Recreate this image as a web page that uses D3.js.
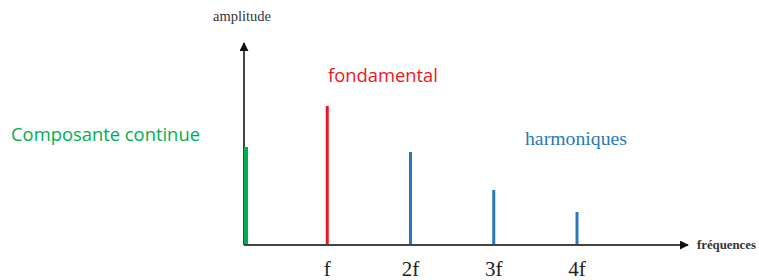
<!DOCTYPE html>
<html>
<head>
<meta charset="utf-8">
<script src="https://cdn.jsdelivr.net/npm/d3@7"></script>
<style>
  body { margin: 0; background: #fff; }
</style>
</head>
<body>
<script>
// spectre : composante continue, fondamental, harmoniques
const harmonics = [0, 1, 2, 3, 4]
const amplitudes = [98, 139, 93, 55, 33]
const kinds = ['continue', 'fondamental', 'harmonique', 'harmonique', 'harmonique']
const tickLabels = ['f', '2f', '3f', '4f']

const m = { width: 759, height: 280, left: 244, bottom: 245 }

const colors = {
  continue: '#00b050',
  fondamental: '#f0141e',
  harmonique: '#2a78bc'
}

let svg = d3.select('body')
  .append('svg')
  .attr('width', m.width)
  .attr('height', m.height)

let x = d3.scaleLinear()
  .domain([0, 4])
  .range([m.left, 577])

let y = d3.scaleLinear()
  .domain([0, 200])
  .range([m.bottom, 45])

// arrow heads
let defs = svg.append('defs')
defs.append('marker')
  .attr('id', 'arrow')
  .attr('viewBox', '0 0 10 10')
  .attr('refX', 9).attr('refY', 5)
  .attr('markerWidth', 9).attr('markerHeight', 9)
  .attr('markerUnits', 'userSpaceOnUse')
  .attr('orient', 'auto')
  .append('path')
  .attr('d', 'M0,0 L10,5 L0,10 Z')
  .attr('fill', '#111')

// axes
svg.append('line')
  .attr('x1', m.left).attr('y1', m.bottom)
  .attr('x2', m.left).attr('y2', 43)
  .attr('stroke', '#444').attr('stroke-width', 2)
  .attr('marker-end', 'url(#arrow)')

svg.append('line')
  .attr('x1', m.left).attr('y1', m.bottom)
  .attr('x2', 688).attr('y2', m.bottom)
  .attr('stroke', '#444').attr('stroke-width', 2)
  .attr('marker-end', 'url(#arrow)')

// raies
svg.selectAll('line.raie')
  .data(harmonics)
  .enter()
  .append('line')
    .attr('class', 'raie')
    .attr('x1', function(d) { return x(d) + (d === 0 ? 2 : 0) })
    .attr('x2', function(d) { return x(d) + (d === 0 ? 2 : 0) })
    .attr('y1', m.bottom - 1)
    .attr('y2', function(d, i) { return y(amplitudes[i]) })
    .attr('stroke', function(d, i) { return colors[kinds[i]] })
    .attr('stroke-width', function(d) { return d === 0 ? 4 : 3 })

// tick labels
svg.selectAll('text.tick')
  .data(tickLabels)
  .enter()
  .append('text')
    .attr('class', 'tick')
    .attr('x', function(d, i) { return x(i + 1) })
    .attr('y', 276)
    .attr('text-anchor', 'middle')
    .attr('font-family', 'Liberation Serif, serif')
    .attr('font-size', 21)
    .attr('fill', '#222')
    .text(function(d) { return d })

function label(txt, px, py, family, size, fill, targetWidth, weight) {
  let t = svg.append('text')
    .attr('x', px).attr('y', py)
    .attr('font-family', family)
    .attr('font-size', size)
    .attr('font-weight', weight || 'normal')
    .attr('fill', fill)
    .text(txt)
  // ajuster la taille à la largeur du texte d'origine
  let w = t.node().getComputedTextLength()
  if (targetWidth && w > 0) {
    t.attr('font-size', size * targetWidth / w)
  }
  return t
}

label('amplitude', 213, 21, 'Liberation Serif, serif', 13, '#333', 58)
label('fréquences', 697, 249, 'Liberation Serif, serif', 13, '#333', 59, 'bold')
label('fondamental', 328, 82, 'Open Sans, sans-serif', 18, colors.fondamental, 110)
label('Composante continue', 11, 141, 'Open Sans, sans-serif', 18, colors.continue, 189)
label('harmoniques', 525, 145, 'Liberation Serif, serif', 18, colors.harmonique, 102)
</script>
</body>
</html>
